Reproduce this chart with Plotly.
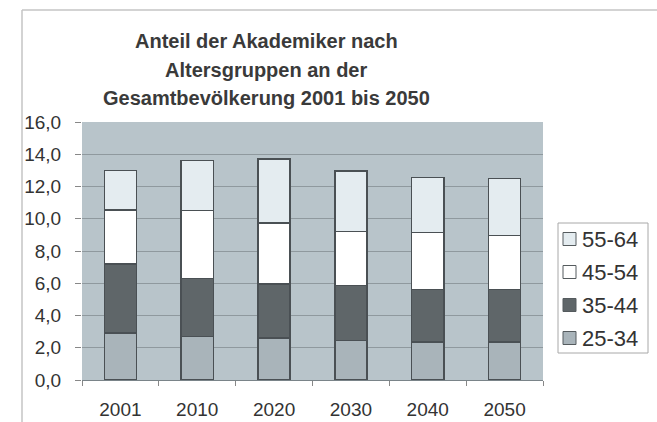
import plotly.graph_objects as go

# Share of university graduates by age group (percent of total population)
years = ["2001", "2010", "2020", "2030", "2040", "2050"]
groups = ["25-34", "35-44", "45-54", "55-64"]
age_25_34 = [2.9, 2.7, 2.6, 2.45, 2.35, 2.35]
age_35_44 = [4.3, 3.6, 3.35, 3.4, 3.25, 3.25]
age_45_54 = [3.35, 4.2, 3.8, 3.35, 3.55, 3.35]
age_55_64 = [2.45, 3.1, 3.95, 3.75, 3.4, 3.55]
y_ticks = [0, 2, 4, 6, 8, 10, 12, 14, 16]
title_lines = [
    "Anteil der Akademiker nach",
    "Altersgruppen an der",
    "Gesamtbevölkerung 2001 bis 2050",
]

series = [age_25_34, age_35_44, age_45_54, age_55_64]
fills = ["#a9b4ba", "#5f6669", "#ffffff", "#e4ecf0"]
outline = "#4a5054"
FONT = "Arial, Liberation Sans"

W, H = 657, 422
L, R, T, B = 82, 114, 122, 42
plot_w = W - L - R
plot_h = H - T - B


def px(xp):
    """pixel column -> paper x"""
    return (xp - L) / plot_w


def py(yp):
    """pixel row -> paper y"""
    return (H - B - yp) / plot_h


fig = go.Figure()
for name, vals, col in zip(groups, series, fills):
    fig.add_trace(go.Bar(
        x=years, y=vals, name=name,
        marker=dict(color=col, line=dict(color=outline, width=1.5)),
        width=0.42,
    ))

# three-line title, one annotation per line
for text, mid in zip(title_lines, [41, 70, 98]):
    fig.add_annotation(
        text="<b>%s</b>" % text, showarrow=False,
        xref="paper", yref="paper", x=px(266), y=py(mid),
        xanchor="center", yanchor="middle",
        font=dict(family=FONT, size=20, color="#3a3a3a"),
    )

# outer chart frame (top and left edges)
frame = dict(color="#c4c4c4", width=1.5)
fig.add_shape(type="line", xref="paper", yref="paper",
              x0=px(22), x1=px(W), y0=py(10), y1=py(10), line=frame)
fig.add_shape(type="line", xref="paper", yref="paper",
              x0=px(22), x1=px(22), y0=py(10), y1=py(H), line=frame)

# legend box, newest age group on top
fig.add_shape(type="rect", xref="paper", yref="paper",
              x0=px(558), x1=px(648), y0=py(353), y1=py(223),
              line=dict(color="#a8a8a8", width=1), fillcolor="#ffffff")
for i, (name, col) in enumerate(reversed(list(zip(groups, fills)))):
    cy = 239 + 33 * i
    fig.add_shape(type="rect", xref="paper", yref="paper",
                  x0=px(563), x1=px(576), y0=py(cy + 6.5), y1=py(cy - 6.5),
                  line=dict(color="#555b5e", width=1), fillcolor=col)
    fig.add_annotation(
        text=name, showarrow=False, xref="paper", yref="paper",
        x=px(580), y=py(cy), xanchor="left", yanchor="middle",
        font=dict(family=FONT, size=22, color="#333333"),
    )

fig.update_layout(
    width=W, height=H,
    margin=dict(l=L, r=R, t=T, b=B, autoexpand=False),
    barmode="stack",
    separators=",.",
    paper_bgcolor="#ffffff",
    plot_bgcolor="#b8c4ca",
    font=dict(family=FONT, color="#333333"),
    showlegend=False,
    xaxis=dict(
        type="category", automargin=False,
        ticks="outside", tickson="boundaries", ticklen=5,
        tickcolor="#888888", showline=True, linecolor="#7a8489", linewidth=1,
        tickfont=dict(size=19, color="#333333"),
        ticklabelstandoff=12,
        showgrid=False,
    ),
    yaxis=dict(
        range=[0, 16], tickvals=y_ticks, tickformat=".1f", automargin=False,
        ticks="outside", ticklen=6, tickcolor="#888888",
        showgrid=True, gridcolor="#8f999e", gridwidth=1,
        showline=False, zeroline=False,
        tickfont=dict(size=19, color="#333333"),
        ticklabelstandoff=10,
    ),
)

fig.write_html("out.html")
